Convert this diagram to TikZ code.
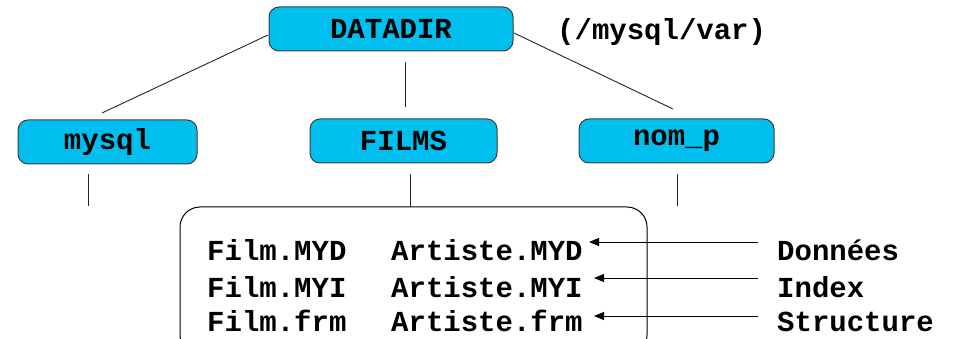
\documentclass[tikz,border=0pt]{standalone}
\usepackage{fontspec}
\setmonofont{Liberation Mono}
\usetikzlibrary{arrows.meta}
\definecolor{boxcyan}{RGB}{0,191,239}
\definecolor{edgegray}{RGB}{60,60,60}
\tikzset{
  folder/.style={draw=edgegray, line width=1pt, fill=boxcyan, rounded corners=10pt,
    minimum height=44pt, inner sep=0pt, font=\ttfamily\bfseries\fontsize{29}{34}\selectfont},
  txt/.style={inner sep=0pt, anchor=base west, font=\ttfamily\bfseries\fontsize{29}{34}\selectfont},
  link/.style={line width=0.9pt, draw=black!85},
  ptr/.style={line width=0.9pt, -{Triangle[length=10pt,width=8pt]}}
}
\begin{document}
\begin{tikzpicture}[x=1pt,y=-1pt]
\useasboundingbox (0,0) rectangle (953,339);
% nodes
\node[folder, minimum width=244pt] (datadir) at (391,29) {DATADIR};
\node[txt] (path) at (557,40) {(/mysql/var)};
\node[folder, minimum width=179pt] (mysql) at (107.5,142) {mysql};
\node[folder, minimum width=187pt] (films) at (403.5,141) {FILMS};
\node[folder, minimum width=195pt] (nomp) at (676.5,141) {nom\_p};
% file box
\draw[line width=1pt, rounded corners=20pt] (180,207) rectangle (647,355);
\node[draw=none, inner sep=0pt, minimum width=467pt, minimum height=1pt] (files) at (413.5,207) {};
\node[txt] (f1) at (207,260) {Film.MYD};
\node[txt] (f2) at (207,297) {Film.MYI};
\node[txt] (f3) at (207,331) {Film.frm};
\node[txt] (a1) at (391,260) {Artiste.MYD};
\node[txt] (a2) at (391,297) {Artiste.MYI};
\node[txt] (a3) at (391,331) {Artiste.frm};
\node[txt] (l1) at (777,260) {Donn\'ees};
\node[txt] (l2) at (777,297) {Index};
\node[txt] (l3) at (777,331) {Structure};
% free ends
\coordinate (dl) at (268,35);
\coordinate (dr) at (514,33);
\coordinate (ml) at (102,113);
\coordinate (nr) at (673,109);
\coordinate (dv1) at (405,62);
\coordinate (dv2) at (405,107);
\coordinate (mv1) at (88,174);
\coordinate (mv2) at (88,206);
\coordinate (fv1) at (410,174);
\coordinate (fv2) at (410,207);
\coordinate (nv1) at (677,174);
\coordinate (nv2) at (677,206);
\draw[link] (dl) -- (ml);
\draw[link] (dr) -- (nr);
\draw[link] (dv1) -- (dv2);
\draw[link] (mv1) -- (mv2);
\draw[link] (fv1) -- (fv2);
\draw[link] (nv1) -- (nv2);
% arrows
\coordinate (p1) at (758,242);
\coordinate (p2) at (758,278);
\coordinate (p3) at (758,316);
\coordinate (t1) at (589,242);
\coordinate (t2) at (594,278);
\coordinate (t3) at (594,316);
\draw[ptr] (p1) -- (t1);
\draw[ptr] (p2) -- (t2);
\draw[ptr] (p3) -- (t3);
\end{tikzpicture}
\end{document}
